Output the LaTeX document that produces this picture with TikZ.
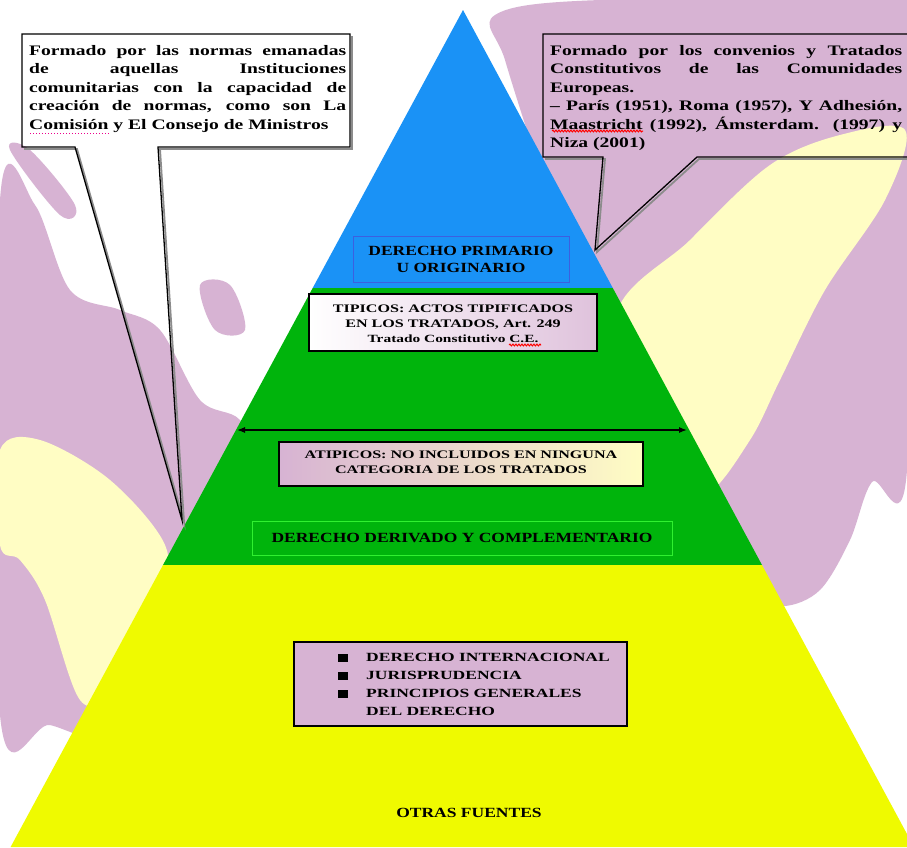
\documentclass[tikz,border=0pt]{standalone}
\usepackage{fontspec}
\setmainfont{Liberation Serif}
\newfontfamily\fA[FakeStretch=1.35]{Liberation Serif}
\newfontfamily\fB[FakeStretch=1.25]{Liberation Serif}
\newfontfamily\fC[FakeStretch=1.4]{Liberation Serif}
\usetikzlibrary{arrows.meta,decorations.pathmorphing}
\definecolor{lav}{HTML}{D7B3D3}
\definecolor{lyel}{HTML}{FFFDC4}
\definecolor{pblue}{HTML}{1A92F6}
\definecolor{pgreen}{HTML}{00B40C}
\definecolor{pyel}{HTML}{EFFA00}
\definecolor{bxblue}{HTML}{3C5FE0}
\definecolor{bxgreen}{HTML}{30F030}
\begin{document}
\begin{tikzpicture}[x=1pt,y=-1pt,
  lbl/.style={font=\fB\bfseries\fontsize{14}{17}\selectfont, align=center, inner sep=0pt},
  boxtxt/.style={font=\fC\bfseries\fontsize{11.5}{15}\selectfont, align=center, inner sep=0pt},
  frame/.style={draw=black, line width=1.6pt, inner sep=0pt},
  calltext/.style={font=\fA\bfseries\fontsize{14.5}{18.5}\selectfont, align=justify, inner sep=0pt, anchor=north west},
  callout/.style={draw=black, line width=1.3pt, line join=miter},
  cshadow/.style={draw=black!45, line width=1.8pt, line join=miter},
  wave/.style={line width=1pt, decorate, decoration={snake, amplitude=0.9pt, segment length=3pt}}
]
\useasboundingbox (0,0) rectangle (907,847);
\clip (0,0) rectangle (907,847);
% background
\fill[white] (0,0) rectangle (907,847);
\fill[lav] plot[smooth cycle, tension=0.55] coordinates {(495,15) (600,0) (907,0) (907,470) (872,482) (850,540) (820,590) (783,606) (750,590) (700,540) (640,420) (585,300) (540,170) (505,60)};
\fill[lyel] plot[smooth cycle, tension=0.55] coordinates {(615,320) (690,240) (770,165) (840,135) (905,130) (885,200) (825,290) (780,380) (750,440) (705,495) (660,470)};
\fill[lav] plot[smooth cycle, tension=0.55] coordinates {(0,200) (35,205) (70,290) (120,310) (160,330) (200,400) (240,420) (262,470) (240,540) (190,600) (150,690) (110,740) (50,725) (0,715)};
\fill[lav] plot[smooth cycle, tension=0.6] coordinates {(10,150) (30,150) (75,205) (60,215)};
\fill[lav] plot[smooth cycle, tension=0.6] coordinates {(200,285) (230,285) (245,330) (215,330)};
\fill[lyel] plot[smooth cycle, tension=0.55] coordinates {(0,450) (40,440) (110,480) (165,545) (160,600) (115,690) (80,700) (45,600) (20,560) (0,545)};
% pyramid
\coordinate (apex) at (463,10);
\coordinate (bL1) at (312.7,288); \coordinate (bR1) at (612.8,288);
\coordinate (bL2) at (163,565);   \coordinate (bR2) at (762,565);
\coordinate (bL3) at (10.6,847);  \coordinate (bR3) at (914,847);
\fill[pblue] (apex) -- (bR1) -- (bL1) -- cycle;
\fill[pgreen] (bL1) -- (bR1) -- (bR2) -- (bL2) -- cycle;
\fill[pyel] (bL2) -- (bR2) -- (bR3) -- (bL3) -- cycle;
% labels and boxes
\node[draw=bxblue, line width=0.8pt, minimum width=216pt, minimum height=46pt, inner sep=0pt] (primbox) at (461,259) {};
\node[lbl] (prim) at (461,259) {DERECHO PRIMARIO\\U ORIGINARIO};
\node[frame, minimum width=288pt, minimum height=57pt, left color=white, right color=lav!80] (tipbox) at (453,322.5) {};
\node[boxtxt] (tip) at (453,323.5) {TIPICOS: ACTOS TIPIFICADOS\\EN LOS TRATADOS, Art. 249\\{\fontsize{11}{15}\selectfont Tratado Constitutivo C.E.}};
\coordinate (aL) at (237,430); \coordinate (aR) at (687,430);
\draw[{Latex[length=8pt,width=6pt]}-{Latex[length=8pt,width=6pt]}, line width=1.2pt] (aL) -- (aR);
\node[frame, minimum width=364pt, minimum height=44pt, left color=lav, right color=lyel] (atipbox) at (461,464) {};
\node[boxtxt] (atip) at (461,462.5) {ATIPICOS: NO INCLUIDOS EN NINGUNA\\CATEGORIA DE LOS TRATADOS};
\node[draw=bxgreen, line width=0.8pt, minimum width=420pt, minimum height=34pt, inner sep=0pt] (derbox) at (462,538) {};
\node[lbl] (der) at (462,538) {DERECHO DERIVADO Y COMPLEMENTARIO};
\node[frame, minimum width=333pt, minimum height=84pt, left color=lav, middle color=lyel!70!lav, right color=lav] (lstbox) at (460.5,684) {};
\node[inner sep=0pt, anchor=west, font=\fC\bfseries\fontsize{12.5}{18}\selectfont] (lst) at (338,685) {%
\begin{tabular}{@{}l@{\hspace{18pt}}l@{}}
\rule{10pt}{8pt} & DERECHO INTERNACIONAL\\
\rule{10pt}{8pt} & JURISPRUDENCIA\\
\rule{10pt}{8pt} & PRINCIPIOS GENERALES\\
 & DEL DERECHO
\end{tabular}};
\node[lbl] (otras) at (469,813) {OTRAS FUENTES};
% left callout
\coordinate (L1) at (22,34); \coordinate (L2) at (350,34); \coordinate (L3) at (350,147);
\coordinate (L4) at (158,147); \coordinate (Ltip) at (182,520); \coordinate (L5) at (75,147); \coordinate (L6) at (22,147);
\draw[cshadow] ([shift={(2,2)}]L2) -- ([shift={(2,2)}]L3) -- ([shift={(2,2)}]L4) -- ([shift={(2,2)}]Ltip) -- ([shift={(2,2)}]L5) -- ([shift={(2,2)}]L6);
\draw[callout] (L1) -- (L2) -- (L3) -- (L4) -- (Ltip) -- (L5) -- (L6) -- cycle;
\node[calltext, text width=317pt] (ltext) at (29,45) {Formado por las normas emanadas\linebreak de aquellas Instituciones\linebreak comunitarias con la capacidad de\linebreak creación de normas, como son La\linebreak Comisión y El Consejo de Ministros};
% right callout
\coordinate (R1) at (543,34); \coordinate (R2) at (912,34); \coordinate (R3) at (912,157);
\coordinate (R4) at (697,157); \coordinate (Rtip) at (595,250); \coordinate (R5) at (603,157); \coordinate (R6) at (543,157);
\draw[cshadow] ([shift={(2,2)}]R3) -- ([shift={(2,2)}]R4) -- ([shift={(2,2)}]Rtip) -- ([shift={(2,2)}]R5) -- ([shift={(2,2)}]R6);
\draw[callout] (R1) -- (R2) -- (R3) -- (R4) -- (Rtip) -- (R5) -- (R6) -- cycle;
\node[calltext, text width=352pt] (rtext) at (550,45) {Formado por los convenios y Tratados\linebreak Constitutivos de las Comunidades\linebreak Europeas.\\ – París (1951), Roma (1957), Y Adhesión,\linebreak Maastricht (1992), Ámsterdam. (1997) y\linebreak Niza (2001)};
% spell-check marks
\draw[red, wave] (552,131) -- (643,131);
\draw[red, wave] (509,345) -- (541,345);
\draw[magenta, line width=1pt, dotted] (30,133) -- (110,133);
\end{tikzpicture}
\end{document}
